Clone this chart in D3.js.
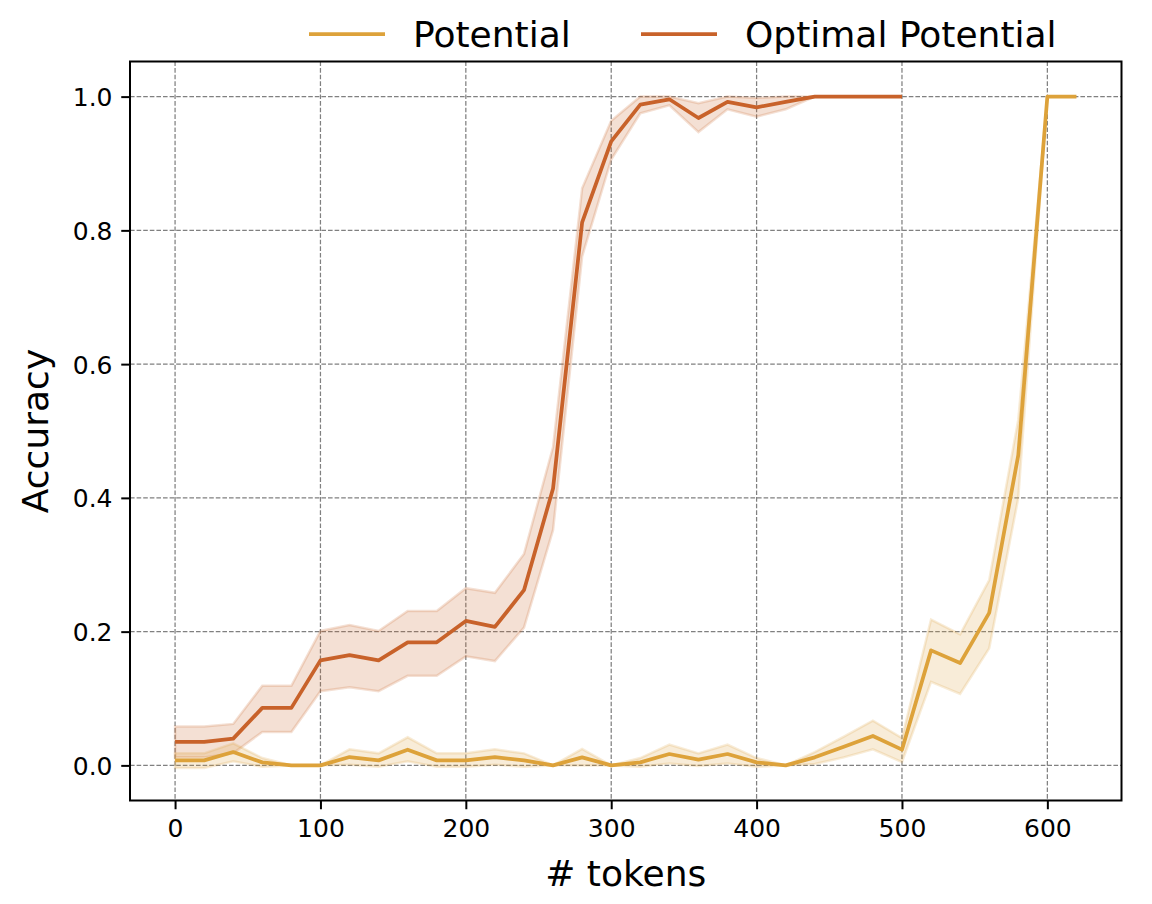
<!DOCTYPE html>
<html>
<head>
<meta charset="utf-8">
<script src="https://cdn.jsdelivr.net/npm/d3@7"></script>
<style>
  html, body { margin: 0; padding: 0; background: #fff; }
  text { font-family: "DejaVu Sans", sans-serif; fill: #000; }
</style>
</head>
<body>
<svg id="chart" width="1152" height="904"></svg>
<script>
// ---- data ----
const optTokens = [0,20,40,60,80,100,120,140,160,180,200,220,240,260,280,300,320,340,360,380,400,420,440,460,480,500];
const optMean  = [0.035,0.035,0.040,0.086,0.086,0.157,0.165,0.157,0.184,0.184,0.216,0.207,0.262,0.414,0.812,0.933,0.988,0.996,0.968,0.992,0.984,0.992,1,1,1,1];
const optLower = [0.012,0.012,0.018,0.050,0.050,0.111,0.117,0.111,0.134,0.134,0.163,0.156,0.206,0.352,0.761,0.906,0.975,0.987,0.947,0.981,0.970,0.981,1,1,1,1];
const optUpper = [0.058,0.058,0.062,0.119,0.119,0.201,0.210,0.201,0.231,0.231,0.265,0.258,0.316,0.476,0.863,0.964,1.0,1.0,0.990,1.0,0.998,1.0,1,1,1,1];

const potTokens = [0,20,40,60,80,100,120,140,160,180,200,220,240,260,280,300,320,340,360,380,400,420,440,460,480,500,520,540,560,580,600,620];
const potMean  = [0.0075,0.0075,0.020,0.0045,0,0,0.0125,0.0075,0.0235,0.0075,0.0075,0.0125,0.0075,0,0.012,0,0.0045,0.017,0.0085,0.017,0.0045,0,0.012,0.028,0.044,0.0235,0.172,0.153,0.228,0.464,1,1];
const potLower = [-0.004,-0.004,0.006,-0.002,0,0,0.001,-0.002,0.006,-0.002,-0.002,0.001,-0.002,0,0,0,-0.002,0.003,-0.001,0.003,-0.002,0,0.002,0.012,0.024,0.005,0.125,0.107,0.175,0.40,1,1];
const potUpper = [0.018,0.018,0.033,0.011,0,0,0.024,0.018,0.042,0.018,0.018,0.024,0.018,0,0.0245,0,0.011,0.031,0.018,0.031,0.011,0,0.020,0.043,0.067,0.041,0.218,0.196,0.277,0.517,1,1];

const xTicks = [0,100,200,300,400,500,600];
const yTicks = [0.0,0.2,0.4,0.6,0.8,1.0];
const seriesNames = ["Potential","Optimal Potential"];
const colors = {"Potential":"#DDA23A","Optimal Potential":"#C8622A"};

// ---- layout ----
const L = 130, R = 1121.5, T = 61.5, B = 800.5;
const svg = d3.select("#chart");
const x = d3.scaleLinear().domain([-31, 651]).range([L, R]);
const y = d3.scaleLinear().domain([-0.0525, 1.0525]).range([B, T]);

// grid
const grid = svg.append("g");
xTicks.forEach(t => grid.append("line")
  .attr("x1", x(t)).attr("x2", x(t)).attr("y1", T).attr("y2", B)
  .attr("stroke", "#808080").attr("stroke-width", 1.25).attr("stroke-dasharray", "4.6,2"));
yTicks.forEach(t => grid.append("line")
  .attr("y1", y(t)).attr("y2", y(t)).attr("x1", L).attr("x2", R)
  .attr("stroke", "#808080").attr("stroke-width", 1.25).attr("stroke-dasharray", "4.6,2"));

svg.append("clipPath").attr("id","clip").append("rect")
  .attr("x", L).attr("y", T).attr("width", R-L).attr("height", B-T);
const plot = svg.append("g").attr("clip-path","url(#clip)");

function drawSeries(tokens, mean, lo, hi, color) {
  const idx = d3.range(tokens.length);
  const area = d3.area().x(i => x(tokens[i])).y0(i => y(lo[i])).y1(i => y(hi[i]));
  plot.append("path").attr("d", area(idx))
    .attr("fill", color).attr("fill-opacity", 0.2)
    .attr("stroke", color).attr("stroke-opacity", 0.2).attr("stroke-width", 2.5);
  const line = d3.line().x(i => x(tokens[i])).y(i => y(mean[i]));
  return () => plot.append("path").attr("d", line(idx))
    .attr("fill", "none").attr("stroke", color).attr("stroke-width", 3.75)
    .attr("stroke-linejoin", "round");
}
const lineOpt = drawSeries(optTokens, optMean, optLower, optUpper, colors["Optimal Potential"]);
const linePot = drawSeries(potTokens, potMean, potLower, potUpper, colors["Potential"]);
lineOpt();
linePot();

// axes
const xAxis = d3.axisBottom(x).tickValues(xTicks).tickFormat(d3.format("d"))
  .tickSize(8.75).tickPadding(8.75);
const yAxis = d3.axisLeft(y).tickValues(yTicks).tickFormat(d3.format(".1f"))
  .tickSize(8.75).tickPadding(8.75);

const gx = svg.append("g").attr("transform", `translate(0,${B})`).call(xAxis);
const gy = svg.append("g").attr("transform", `translate(${L},0)`).call(yAxis);
[gx, gy].forEach(g => {
  g.select(".domain").remove();
  g.selectAll(".tick line").attr("stroke", "#000").attr("stroke-width", 2);
  g.selectAll(".tick text").attr("font-size", 25).attr("font-family", "DejaVu Sans").attr("fill", "#000");
});
gx.selectAll(".tick text").attr("dy", null).attr("y", 8.75 + 8.75 + 19);
gy.selectAll(".tick text").attr("dy", "0.36em");

// frame
svg.append("rect").attr("x", L).attr("y", T).attr("width", R-L).attr("height", B-T)
  .attr("fill", "none").attr("stroke", "#000").attr("stroke-width", 2);

// axis labels
svg.append("text").attr("x", (L+R)/2).attr("y", 886).attr("text-anchor", "middle")
  .attr("font-size", 36).text("# tokens");
svg.append("text").attr("transform", `translate(48,${(T+B)/2}) rotate(-90)`)
  .attr("text-anchor", "middle").attr("font-size", 36).text("Accuracy");

// legend
const legendItems = [
  {name: seriesNames[0], x0: 309},
  {name: seriesNames[1], x0: 641}
];
legendItems.forEach(it => {
  svg.append("line").attr("x1", it.x0).attr("x2", it.x0 + 76).attr("y1", 34).attr("y2", 34)
    .attr("stroke", colors[it.name]).attr("stroke-width", 3.75);
  svg.append("text").attr("x", it.x0 + 104).attr("y", 46.5).attr("font-size", 36).text(it.name);
});
</script>
</body>
</html>
